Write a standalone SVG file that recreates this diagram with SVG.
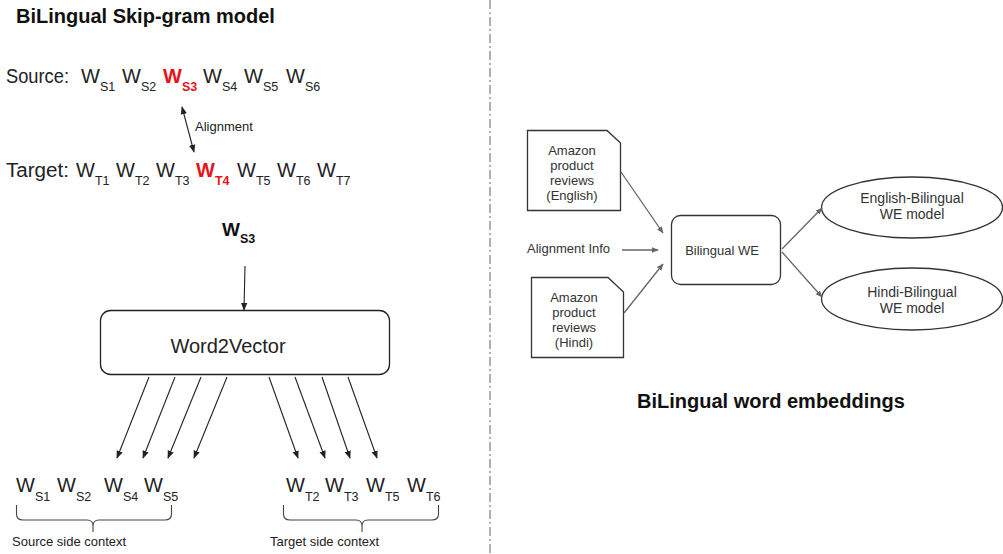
<svg xmlns="http://www.w3.org/2000/svg" width="1003" height="554" viewBox="0 0 1003 554">
  <style>
    text { font-family: "Liberation Sans", Arial, sans-serif; fill: #222; }
    .title { font-size: 20px; font-weight: bold; fill: #111; }
    .lbl { font-size: 20px; }
    .w { font-size: 20px; }
    .sub { font-size: 12.5px; }
    .hl { fill: #e8141b; font-weight: bold; }
    .bold { font-weight: bold; fill: #111; }
    .small { font-size: 13px; fill: #333; }
    .mid { font-size: 13px; fill: #333; text-anchor: middle; }
    .ell { font-size: 14px; fill: #333; text-anchor: middle; }
    .box { fill: #fff; stroke: #333; stroke-width: 1.3; }
    .arr { stroke: #222; stroke-width: 1.1; fill: none; }
    .arr-g { stroke: #666; stroke-width: 1.3; fill: none; }
    .brace { stroke: #444; stroke-width: 1.1; fill: none; }
  </style>
  <defs>
    <marker id="ah" viewBox="0 0 10 10" refX="9" refY="5" markerWidth="8" markerHeight="8" orient="auto-start-reverse" markerUnits="userSpaceOnUse">
      <path d="M0,1 L10,5 L0,9 Z" fill="#222"/>
    </marker>
    <marker id="ahg" viewBox="0 0 10 10" refX="9" refY="5" markerWidth="7" markerHeight="7" orient="auto" markerUnits="userSpaceOnUse">
      <path d="M0,1 L10,5 L0,9 Z" fill="#666"/>
    </marker>
  </defs>
  <rect width="1003" height="554" fill="#fff"/>

  <!-- panel divider -->
  <line x1="490" y1="0" x2="490" y2="554" stroke="#888" stroke-width="1.3" stroke-dasharray="9,3,2,3"/>

  <!-- left panel: skip-gram -->
  <g id="title-left">
    <text class="title" x="16" y="23">BiLingual Skip-gram model</text>
  </g>

  <g id="source-sentence">
    <text class="lbl" x="6" y="83" textLength="63" lengthAdjust="spacingAndGlyphs">Source:</text>
    <text class="w" x="81" y="83">W<tspan class="sub" dy="8">S1</tspan></text>
    <text class="w" x="122" y="83">W<tspan class="sub" dy="8">S2</tspan></text>
    <text class="w hl" x="163" y="83">W<tspan class="sub" dy="8">S3</tspan></text>
    <text class="w" x="203" y="83">W<tspan class="sub" dy="8">S4</tspan></text>
    <text class="w" x="244" y="83">W<tspan class="sub" dy="8">S5</tspan></text>
    <text class="w" x="286" y="83">W<tspan class="sub" dy="8">S6</tspan></text>
  </g>

  <g id="target-sentence">
    <text class="lbl" x="6" y="177" textLength="63" lengthAdjust="spacingAndGlyphs">Target:</text>
    <text class="w" x="76" y="177">W<tspan class="sub" dy="8">T1</tspan></text>
    <text class="w" x="116" y="177">W<tspan class="sub" dy="8">T2</tspan></text>
    <text class="w" x="156" y="177">W<tspan class="sub" dy="8">T3</tspan></text>
    <text class="w hl" x="196" y="177">W<tspan class="sub" dy="8">T4</tspan></text>
    <text class="w" x="237" y="177">W<tspan class="sub" dy="8">T5</tspan></text>
    <text class="w" x="277" y="177">W<tspan class="sub" dy="8">T6</tspan></text>
    <text class="w" x="317" y="177">W<tspan class="sub" dy="8">T7</tspan></text>
  </g>

  <g id="alignment-label">
    <text class="small" x="195" y="131" style="fill:#222">Alignment</text>
  </g>

  <g id="input-word">
    <text class="w bold" x="222" y="236" style="font-size:19px">W<tspan class="sub" dy="7" style="font-weight:bold">S3</tspan></text>
  </g>

  <g id="word2vector">
    <rect class="box" x="100.5" y="310.5" width="289" height="64" rx="10" style="stroke:#222"/>
    <text class="w" x="228" y="353" text-anchor="middle">Word2Vector</text>
  </g>

  <g id="source-context">
    <text class="w" x="16" y="492">W<tspan class="sub" dy="9">S1</tspan></text>
    <text class="w" x="57" y="492">W<tspan class="sub" dy="9">S2</tspan></text>
    <text class="w" x="104" y="492">W<tspan class="sub" dy="9">S4</tspan></text>
    <text class="w" x="144" y="492">W<tspan class="sub" dy="9">S5</tspan></text>
    <path class="brace" d="M16.5,505 V514 Q16.5,520 23,520 H87 Q93,520 93,526 V532 M93,526 Q93,520 99,520 H165 Q171.5,520 171.5,514 V505"/>
    <text class="small" x="12" y="546" style="fill:#222">Source side context</text>
  </g>

  <g id="target-context">
    <text class="w" x="286" y="492">W<tspan class="sub" dy="9">T2</tspan></text>
    <text class="w" x="325" y="492">W<tspan class="sub" dy="9">T3</tspan></text>
    <text class="w" x="366" y="492">W<tspan class="sub" dy="9">T5</tspan></text>
    <text class="w" x="407" y="492">W<tspan class="sub" dy="9">T6</tspan></text>
    <path class="brace" d="M283.5,505 V514 Q283.5,520 290,520 H356 Q362,520 362,526 V532 M362,526 Q362,520 368,520 H432 Q438.5,520 438.5,514 V505"/>
    <text class="small" x="270" y="546" style="fill:#222">Target side context</text>
  </g>

  <!-- right panel: bilingual embeddings -->
  <g id="doc-english">
    <path class="box" d="M527.5,130.5 L607,130.5 L620.5,143 L620.5,210.5 L527.5,210.5 Z"/>
    <text class="mid" x="572" y="155">Amazon</text>
    <text class="mid" x="572" y="170">product</text>
    <text class="mid" x="572" y="185">reviews</text>
    <text class="mid" x="572" y="200">(English)</text>
  </g>

  <g id="alignment-info">
    <text class="small" x="527" y="253">Alignment Info</text>
  </g>

  <g id="doc-hindi">
    <path class="box" d="M531.5,277.5 L608,277.5 L623.5,292 L623.5,357.5 L531.5,357.5 Z"/>
    <text class="mid" x="574" y="302">Amazon</text>
    <text class="mid" x="574" y="317">product</text>
    <text class="mid" x="574" y="332">reviews</text>
    <text class="mid" x="574" y="347">(Hindi)</text>
  </g>

  <g id="bilingual-we">
    <rect class="box" x="671.5" y="215.5" width="109" height="69" rx="9"/>
    <text class="mid" x="722" y="255">Bilingual WE</text>
  </g>

  <g id="english-model">
    <ellipse class="box" cx="912" cy="207.5" rx="90.5" ry="30.5"/>
    <text class="ell" x="912" y="203">English-Bilingual</text>
    <text class="ell" x="912" y="219">WE model</text>
  </g>

  <g id="hindi-model">
    <ellipse class="box" cx="912" cy="299" rx="90.5" ry="31"/>
    <text class="ell" x="912" y="297">Hindi-Bilingual</text>
    <text class="ell" x="912" y="313">WE model</text>
  </g>

  <g id="title-right">
    <text class="title" x="637" y="408">BiLingual word embeddings</text>
  </g>

  <g id="connectors">
    <!-- alignment (two-way) -->
    <line class="arr" x1="182" y1="107" x2="194" y2="152" marker-start="url(#ah)" marker-end="url(#ah)"/>
    <!-- input word into the model -->
    <line class="arr" x1="245" y1="266" x2="244" y2="310" marker-end="url(#ah)"/>
    <!-- source side predictions -->
    <line class="arr" x1="149" y1="377" x2="117" y2="458" marker-end="url(#ah)"/>
    <line class="arr" x1="175" y1="377" x2="143" y2="458" marker-end="url(#ah)"/>
    <line class="arr" x1="201" y1="377" x2="168" y2="458" marker-end="url(#ah)"/>
    <line class="arr" x1="227" y1="377" x2="194" y2="458" marker-end="url(#ah)"/>
    <!-- target side predictions -->
    <line class="arr" x1="269" y1="377" x2="298" y2="458" marker-end="url(#ah)"/>
    <line class="arr" x1="295" y1="377" x2="325" y2="458" marker-end="url(#ah)"/>
    <line class="arr" x1="322" y1="377" x2="350" y2="458" marker-end="url(#ah)"/>
    <line class="arr" x1="348" y1="377" x2="377" y2="458" marker-end="url(#ah)"/>
    <!-- inputs to bilingual WE -->
    <line class="arr-g" x1="621" y1="172" x2="663" y2="233" marker-end="url(#ahg)"/>
    <line class="arr-g" x1="622" y1="250" x2="658" y2="250" marker-end="url(#ahg)"/>
    <line class="arr-g" x1="624" y1="313" x2="663" y2="264" marker-end="url(#ahg)"/>
    <!-- outputs -->
    <line class="arr-g" x1="782" y1="249" x2="822" y2="208" marker-end="url(#ahg)"/>
    <line class="arr-g" x1="782" y1="252" x2="822" y2="297" marker-end="url(#ahg)"/>
  </g>
</svg>
